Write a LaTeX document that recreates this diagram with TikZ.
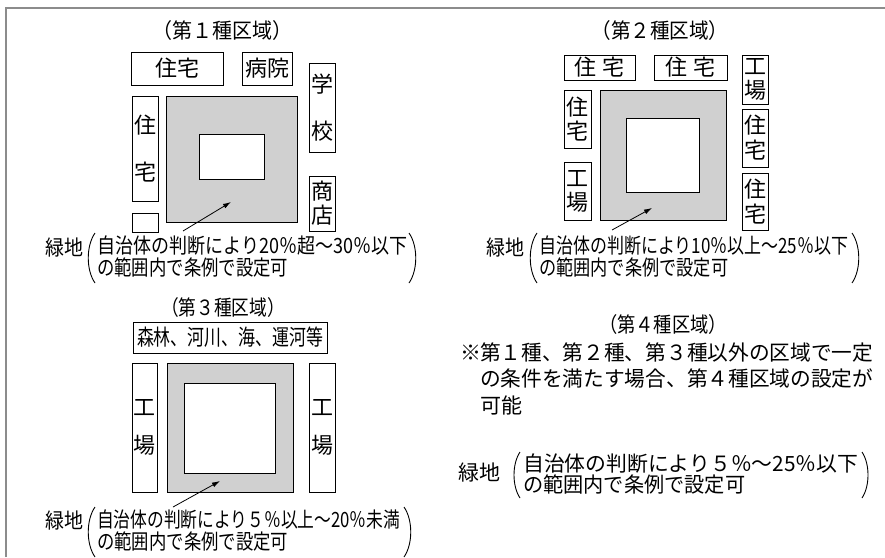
\documentclass[tikz,border=0pt]{standalone}
\usepackage{fontspec}
\usepackage{graphicx}
\setmainfont{Noto Sans CJK JP}
\usetikzlibrary{arrows.meta}
\definecolor{zonegray}{RGB}{208,208,208}
\definecolor{framegray}{RGB}{140,140,140}
\newcommand{\fitw}[2]{\resizebox{#1pt}{\height}{#2}}
\begin{document}
\begin{tikzpicture}[x=1pt,y=-1pt,
  bld/.style={draw=black, line width=1pt, inner sep=0pt, font=\fontsize{22}{24}\selectfont, align=center},
  gzone/.style={draw=black, line width=1pt, fill=zonegray, inner sep=0pt},
  site/.style={draw=black, line width=1pt, fill=white, inner sep=0pt},
  txt/.style={inner sep=0pt, anchor=west, font=\fontsize{21}{22}\selectfont},
  bigtxt/.style={inner sep=0pt, anchor=west, font=\fontsize{21}{24}\selectfont},
  ttl/.style={inner sep=0pt, font=\fontsize{21}{22}\selectfont},
  arr/.style={-{Latex[length=8pt,width=5pt]}, line width=0.8pt},
  brk/.style={line width=0.9pt}
]
\useasboundingbox (0,0) rectangle (885,557);
\coordinate (fbl) at (5.5,557);
\coordinate (ftl) at (5.5,7.5);
\coordinate (ftr) at (885,7.5);
\draw[framegray, line width=2pt] (fbl) -- (ftl) -- (ftr);

% ---------- Zone 1 ----------
\node[ttl] (t1) at (222,31) {\fitw{140}{（第１種区域）}};
\node[gzone, minimum width=131, minimum height=126] (g1) at (231.5,159) {};
\node[site, minimum width=65, minimum height=45] (s1) at (231.5,156.5) {};
\node[bld, minimum width=92, minimum height=33] (h1a) at (177,68.5) {住宅};
\node[bld, minimum width=50, minimum height=33] (hp1) at (267,68.5) {病院};
\node[bld, minimum width=26, minimum height=89] (sc1) at (322,107.5) {学\\[23pt]校};
\node[bld, minimum width=26, minimum height=105] (h1b) at (145,148.5) {住\\[23pt]宅};
\node[bld, minimum width=26, minimum height=19] (e1) at (145,222.5) {};
\node[bld, minimum width=26, minimum height=55] (sh1) at (322,203.5) {商\\店};
\coordinate (a1s) at (183,231);
\coordinate (a1t) at (231,202);
\draw[arr] (a1s) -- (a1t);
\node[bigtxt] (r1) at (45,248) {\fitw{38}{緑地}};
\node[txt] (l1a) at (97,246) {\fitw{310}{自治体の判断により20％超～30％以下}};
\node[txt] (l1b) at (97,268) {\fitw{191}{の範囲内で条例で設定可}};
\coordinate (p1a) at (95,233); \coordinate (p1b) at (95,283);
\coordinate (q1a) at (409,233); \coordinate (q1b) at (409,283);
\draw[brk] (p1a) .. controls (86,246) and (86,270) .. (p1b);
\draw[brk] (q1a) .. controls (418,246) and (418,270) .. (q1b);

% ---------- Zone 2 ----------
\node[ttl] (t2) at (660,31) {\fitw{137}{（第２種区域）}};
\node[gzone, minimum width=126, minimum height=130] (g2) at (663,155) {};
\node[site, minimum width=73, minimum height=74] (s2) at (662.5,155) {};
\node[bld, minimum width=71, minimum height=25] (h2a) at (599.5,67.5) {住\hspace{6pt}宅};
\node[bld, minimum width=73, minimum height=25] (h2b) at (690.5,67.5) {住\hspace{6pt}宅};
\node[bld, minimum width=26, minimum height=49] (f2a) at (755,79.5) {工\\場};
\node[bld, minimum width=26, minimum height=58] (h2c) at (755,138) {住\\[1pt]宅};
\node[bld, minimum width=26, minimum height=57] (h2d) at (755,201.5) {住\\[1pt]宅};
\node[bld, minimum width=27, minimum height=58] (h2e) at (577.5,119) {住\\宅};
\node[bld, minimum width=27, minimum height=58] (f2b) at (577.5,191) {工\\場};
\coordinate (a2s) at (612,230);
\coordinate (a2t) at (652,208);
\draw[arr] (a2s) -- (a2t);
\node[bigtxt] (r2) at (486,248) {\fitw{38}{緑地}};
\node[txt] (l2a) at (539,246) {\fitw{309}{自治体の判断により10％以上～25％以下}};
\node[txt] (l2b) at (539,268) {\fitw{189}{の範囲内で条例で設定可}};
\coordinate (p2a) at (537,233); \coordinate (p2b) at (537,283);
\coordinate (q2a) at (852,233); \coordinate (q2b) at (852,283);
\draw[brk] (p2a) .. controls (528,246) and (528,270) .. (p2b);
\draw[brk] (q2a) .. controls (861,246) and (861,270) .. (q2b);

% ---------- Zone 3 ----------
\node[ttl] (t3) at (223,308) {\fitw{124}{（第３種区域）}};
\node[bld, minimum width=194, minimum height=31] (fo3) at (230,337.5) {\fitw{186}{森林、河川、海、運河等}};
\node[gzone, minimum width=126, minimum height=129] (g3) at (230,427.5) {};
\node[site, minimum width=91, minimum height=90] (s3) at (229.5,428) {};
\node[bld, minimum width=25, minimum height=129] (f3a) at (144.5,427.5) {工\\[14pt]場};
\node[bld, minimum width=26, minimum height=129] (f3b) at (322,427.5) {工\\[14pt]場};
\coordinate (a3s) at (173,507);
\coordinate (a3t) at (220,481);
\draw[arr] (a3s) -- (a3t);
\node[bigtxt] (r3) at (45,521) {\fitw{38}{緑地}};
\node[txt] (l3a) at (97,520) {\fitw{303}{自治体の判断により５％以上～20％未満}};
\node[txt] (l3b) at (97,542) {\fitw{191}{の範囲内で条例で設定可}};
\coordinate (p3a) at (95,507); \coordinate (p3b) at (95,557);
\coordinate (q3a) at (404,507); \coordinate (q3b) at (404,557);
\draw[brk] (p3a) .. controls (86,520) and (86,544) .. (p3b);
\draw[brk] (q3a) .. controls (413,520) and (413,544) .. (q3b);

% ---------- Zone 4 ----------
\node[ttl] (t4) at (663,325) {\fitw{128}{（第４種区域）}};
\node[bigtxt] (n4) at (460,353) {※};
\node[bigtxt] (m4a) at (480,353) {\fitw{393}{第１種、第２種、第３種以外の区域で一定}};
\node[bigtxt] (m4b) at (480,379) {\fitw{393}{の条件を満たす場合、第４種区域の設定が}};
\node[bigtxt] (m4c) at (480,405) {可能};
\node[bigtxt] (r4) at (458,473) {緑地};
\node[bigtxt] (l4a) at (523,464) {\fitw{335}{自治体の判断により５％～25％以下}};
\node[bigtxt] (l4b) at (523,485) {\fitw{222}{の範囲内で条例で設定可}};
\coordinate (p4a) at (520,452); \coordinate (p4b) at (520,498);
\coordinate (q4a) at (862,452); \coordinate (q4b) at (862,498);
\draw[brk] (p4a) .. controls (512,464) and (512,486) .. (p4b);
\draw[brk] (q4a) .. controls (870,464) and (870,486) .. (q4b);
\end{tikzpicture}
\end{document}
